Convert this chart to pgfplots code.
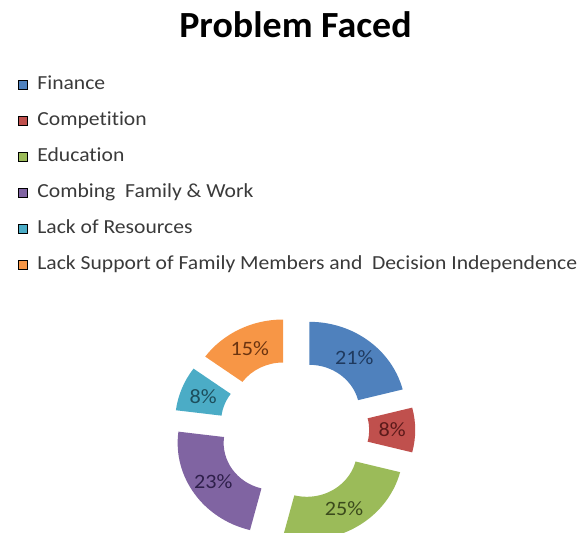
\documentclass[border=0pt]{standalone}
\usepackage{pgfplots}
\pgfplotsset{compat=1.18}
\usepackage{pgfplotstable}
\usepackage{fontspec}
\setmainfont[Ligatures=NoCommon]{Carlito}

\definecolor{cFin}{HTML}{4F81BD}
\definecolor{cCom}{HTML}{C0504D}
\definecolor{cEdu}{HTML}{9BBB59}
\definecolor{cCmb}{HTML}{8064A2}
\definecolor{cRes}{HTML}{4BACC6}
\definecolor{cLsp}{HTML}{F79646}
\definecolor{tFin}{HTML}{1F3A5F}
\definecolor{tCom}{HTML}{5C1A1A}
\definecolor{tEdu}{HTML}{3B4A1C}
\definecolor{tCmb}{HTML}{2E1F4A}
\definecolor{tRes}{HTML}{1D4E5C}
\definecolor{tLsp}{HTML}{6B3410}
\definecolor{legtext}{HTML}{3A3A3A}

\pgfplotstableread[col sep=comma]{
value,fillc,textc
21,cFin,tFin
8,cCom,tCom
25,cEdu,tEdu
23,cCmb,tCmb
8,cRes,tRes
15,cLsp,tLsp
}\datatable

\newcommand\hs[1]{\scalebox{1.085}[1]{#1}}

% geometry (in pixels of the 587x533 picture)
\def\CX{294.3}\def\CY{103}\def\RR{90}\def\rr{47}\def\DD{23}\def\SX{1.07}
\pgfmathsetmacro\RX{\SX*\RR}
\pgfmathsetmacro\rX{\SX*\rr}
\def\cum{0}
\pgfplotsforeachungrouped \i in {0,...,5}{%
  \pgfplotstablegetelem{\i}{value}\of\datatable
  \pgfmathsetmacro\va{\pgfplotsretval}%
  \pgfmathsetmacro\as{90-3.6*\cum}%
  \pgfmathsetmacro\ae{\as-3.6*\va}%
  \pgfmathsetmacro\am{(\as+\ae)/2}%
  \pgfmathsetmacro\cum{\cum+\va}%
  \pgfmathsetmacro\ox{\CX+\SX*\DD*cos(\am)}%
  \pgfmathsetmacro\oy{\CY+\DD*sin(\am)}%
  \pgfmathsetmacro\osx{\ox+\SX*\RR*cos(\as)}%
  \pgfmathsetmacro\osy{\oy+\RR*sin(\as)}%
  \pgfmathsetmacro\iex{\ox+\SX*\rr*cos(\ae)}%
  \pgfmathsetmacro\iey{\oy+\rr*sin(\ae)}%
  \pgfmathsetmacro\lx{\ox+\SX*(\RR+\rr)/2*cos(\am)}%
  \pgfmathsetmacro\ly{\oy+(\RR+\rr)/2*sin(\am)}%
  \pgfmathtruncatemacro\vi{\va}%
  \expandafter\xdef\csname As\i\endcsname{\as}%
  \expandafter\xdef\csname Ae\i\endcsname{\ae}%
  \expandafter\xdef\csname OSx\i\endcsname{\osx}%
  \expandafter\xdef\csname OSy\i\endcsname{\osy}%
  \expandafter\xdef\csname IEx\i\endcsname{\iex}%
  \expandafter\xdef\csname IEy\i\endcsname{\iey}%
  \expandafter\xdef\csname Lx\i\endcsname{\lx}%
  \expandafter\xdef\csname Ly\i\endcsname{\ly}%
  \expandafter\xdef\csname V\i\endcsname{\vi}%
  \pgfplotstablegetelem{\i}{fillc}\of\datatable
  \expandafter\xdef\csname Fc\i\endcsname{\pgfplotsretval}%
  \pgfplotstablegetelem{\i}{textc}\of\datatable
  \expandafter\xdef\csname Tc\i\endcsname{\pgfplotsretval}%
}

\begin{document}
\begin{tikzpicture}
\begin{axis}[
  name=ax,
  width=587bp, height=533bp, scale only axis,
  xmin=0, xmax=587, ymin=0, ymax=533,
  disabledatascaling,
  hide axis, clip=false,
  legend image code/.code={\fill[#1] (0bp,-4.5bp) rectangle (9.5bp,5bp);},
  legend style={draw=none, fill=none, inner sep=0pt, outer sep=0pt,
    at={(axis cs:18,457)}, anchor=north west,
    font=\fontsize{20}{24}\selectfont, text=legtext,
    nodes={inner sep=0pt, text height=14bp, text depth=4bp},
    row sep=18bp,
    /tikz/every odd column/.append style={column sep=9.5bp}},
  legend cell align=left,
]
\pgfplotsinvokeforeach{0,...,5}{%
  \fill[\csname Fc#1\endcsname]
    (axis cs:\csname OSx#1\endcsname,\csname OSy#1\endcsname)
    arc[start angle=\csname As#1\endcsname, end angle=\csname Ae#1\endcsname,
        x radius=\RX, y radius=\RR]
    -- (axis cs:\csname IEx#1\endcsname,\csname IEy#1\endcsname)
    arc[start angle=\csname Ae#1\endcsname, end angle=\csname As#1\endcsname,
        x radius=\rX, y radius=\rr]
    -- cycle;
  \node[text=\csname Tc#1\endcsname, font=\fontsize{20.5}{24}\selectfont]
    at (axis cs:\csname Lx#1\endcsname,\csname Ly#1\endcsname)
    {\hs{\csname V#1\endcsname\%}};
  \edef\tmp{\noexpand\addlegendimage{fill=\csname Fc#1\endcsname}}\tmp
}
\legend{\hs{Finance}, \hs{Competition}, \hs{Education}, \hs{Combing~ Family \& Work},
  \hs{Lack of Resources}, \hs{Lack Support of Family Members and~ Decision Independence}}
\node[anchor=base, font=\bfseries\fontsize{37}{40}\selectfont]
  at (axis cs:295.5,495) {\scalebox{1.03}[1]{Problem Faced}};
\end{axis}
\pgfresetboundingbox
\path (ax.south west) rectangle (ax.north east);
\end{tikzpicture}
\end{document}
